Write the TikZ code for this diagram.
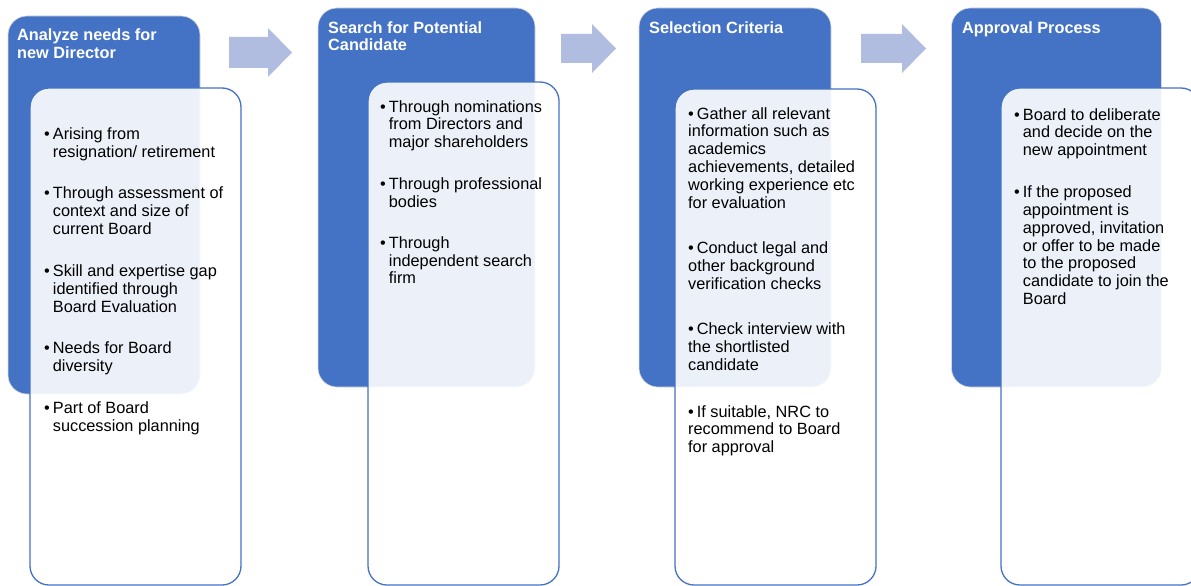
\documentclass[tikz,border=0pt]{standalone}
\usepackage{fontspec}
\setmainfont{Liberation Sans}
\usepackage{xcolor}
\usetikzlibrary{positioning}
\definecolor{darkblue}{RGB}{68, 114, 196}
\definecolor{paleblue}{RGB}{176, 189, 224}
\newcommand{\bul}{\textbullet\hspace{3pt}}
\newcommand{\ind}{\hphantom{\bul}}

\begin{document}
\begin{tikzpicture}[x=1pt, y=-1pt,
    stage/.style={draw=black!15, line width=0.6pt, fill=darkblue, rounded corners=19pt, inner sep=0pt},
    detail/.style={draw=darkblue, line width=1.3pt, fill=white, fill opacity=0.9, rounded corners=19pt, inner sep=0pt},
    heading/.style={anchor=north west, inner sep=0pt, align=left, text=white, font=\fontsize{16.3}{17.8}\selectfont\bfseries},
    items/.style={anchor=north west, inner sep=0pt, align=left, font=\fontsize{16.3}{17.8}\selectfont}]
    \useasboundingbox (0,0) rectangle (1191,586);
    \clip (0,0) rectangle (1191,586);

    % Stage boxes
    \node[stage, minimum width=192pt, minimum height=378pt] (s1) at (104,205) {};
    \node[stage, minimum width=217pt, minimum height=379pt] (s2) at (426.5,197.5) {};
    \node[stage, minimum width=192pt, minimum height=379pt] (s3) at (735,197.5) {};
    \node[stage, minimum width=210pt, minimum height=379pt] (s4) at (1056.5,197.5) {};

    % Detail boxes
    \node[detail, minimum width=211pt, minimum height=497pt] (d1) at (135.5,336.5) {};
    \node[detail, minimum width=191pt, minimum height=503pt] (d2) at (463.5,333.5) {};
    \node[detail, minimum width=201pt, minimum height=496pt] (d3) at (775.5,337) {};
    \node[detail, minimum width=199pt, minimum height=497pt] (d4) at (1100.5,336.5) {};

    % Arrows between stages
    \fill[paleblue] (229,37) -- (268,37) -- (268,28) -- (292,52.5) -- (268,77) -- (268,68) -- (229,68) -- cycle;
    \fill[paleblue] (561,34) -- (592,34) -- (592,24) -- (616,48.5) -- (592,73) -- (592,63) -- (561,63) -- cycle;
    \fill[paleblue] (861,34) -- (902,34) -- (902,24) -- (926,48.5) -- (902,73) -- (902,63) -- (861,63) -- cycle;

    % Headings
    \node[heading, font=\fontsize{16.3}{18.2}\selectfont\bfseries] (h1) at (17,28) {Analyze needs for\\new Director};
    \node[heading] (h2) at (328,21) {Search for Potential\\Candidate};
    \node[heading] (h3) at (649,21) {Selection Criteria};
    \node[heading] (h4) at (962,21) {Approval Process};

    % Bullet lists
    \node[items, font=\fontsize{16.3}{18.1}\selectfont] (b1) at (44,127) {\bul Arising from\\ \ind resignation/ retirement\\[23.3pt]
        \bul Through assessment of\\ \ind context and size of\\ \ind current Board\\[23.3pt]
        \bul Skill and expertise gap\\ \ind identified through\\ \ind Board Evaluation\\[23.3pt]
        \bul Needs for Board\\ \ind diversity\\[23.3pt]
        \bul Part of Board\\ \ind succession planning};
    \node[items] (b2) at (380,100) {\bul Through nominations\\ \ind from Directors and\\ \ind major shareholders\\[23.8pt]
        \bul Through professional\\ \ind bodies\\[23.5pt]
        \bul Through\\ \ind independent search\\ \ind firm};
    \node[items] (b3) at (688,107) {\bul Gather all relevant\\ information such as\\ academics\\ achievements, detailed\\ working experience etc\\ for evaluation\\[27.6pt]
        \bul Conduct legal and\\ other background\\ verification checks\\[27.9pt]
        \bul Check interview with\\ the shortlisted\\ candidate\\[29pt]
        \bul If suitable, NRC to\\ recommend to Board\\ for approval};
    \node[items] (b4) at (1014,108) {\bul Board to deliberate\\ \ind and decide on the\\ \ind new appointment\\[24.3pt]
        \bul If the proposed\\ \ind appointment is\\ \ind approved, invitation\\ \ind or offer to be made\\ \ind to the proposed\\ \ind candidate to join the\\ \ind Board};
\end{tikzpicture}
\end{document}
